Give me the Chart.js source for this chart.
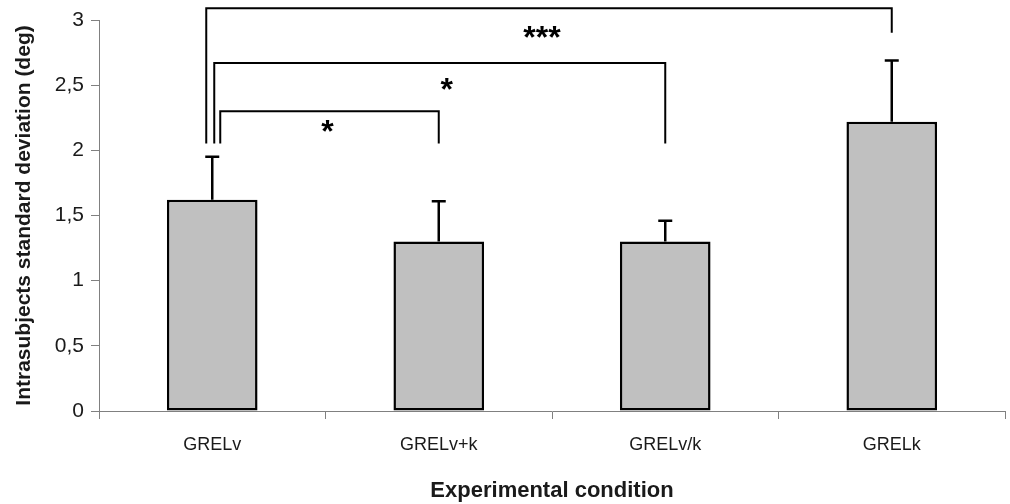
<!DOCTYPE html>
<html>
<head>
<meta charset="utf-8">
<script src="https://cdn.jsdelivr.net/npm/chart.js@4"></script>
<style>
  html, body { margin: 0; padding: 0; background: #fff; }
  #wrap { width: 1010px; height: 504px; }
</style>
</head>
<body>
<div id="wrap"><canvas id="chart" width="1010" height="504"></canvas></div>
<script>
// values
const categories = ['GRELv', 'GRELv+k', 'GRELv/k', 'GRELk'];
const means = [1.62, 1.30, 1.30, 2.22];
const sdUpper = [0.33, 0.31, 0.16, 0.47];
const yTicks = [0, 0.5, 1, 1.5, 2, 2.5, 3];

// significance brackets (axis units)
const bracketFrom = [0, 0, 0];
const bracketTo = [3, 2, 1];
const bracketTop = [3.09, 2.67, 2.30];
const bracketLeftEnd = [2.06, 2.06, 2.06];
const bracketRightEnd = [2.91, 2.06, 2.06];
const bracketLabels = ['***', '*', '*'];

const FONT = '"Liberation Sans", Arial, sans-serif';

// error bars, drawn upwards only
const errorBars = {
    id: 'errorBars',
    afterDatasetsDraw(chart) {
        const ctx = chart.ctx, y = chart.scales.y;
        const meta = chart.getDatasetMeta(0);
        ctx.save();
        ctx.strokeStyle = '#000';
        ctx.lineWidth = 2.5;
        meta.data.forEach((bar, i) => {
            const top = y.getPixelForValue(means[i] + sdUpper[i]);
            const base = y.getPixelForValue(means[i]);
            ctx.beginPath();
            ctx.moveTo(bar.x, base);
            ctx.lineTo(bar.x, top);
            ctx.moveTo(bar.x - 7, top);
            ctx.lineTo(bar.x + 7, top);
            ctx.stroke();
        });
        ctx.restore();
    }
};

// brackets with stars
const brackets = {
    id: 'brackets',
    afterDatasetsDraw(chart) {
        const ctx = chart.ctx, x = chart.scales.x, y = chart.scales.y;
        const leftShift = [-6, 2, 8];
        ctx.save();
        ctx.strokeStyle = '#000';
        ctx.lineWidth = 2;
        ctx.lineCap = 'square';
        bracketFrom.forEach((f, i) => {
            const x1 = x.getPixelForValue(f) + leftShift[i];
            const x2 = x.getPixelForValue(bracketTo[i]);
            const yt = y.getPixelForValue(bracketTop[i]);
            ctx.beginPath();
            ctx.moveTo(x1, y.getPixelForValue(bracketLeftEnd[i]));
            ctx.lineTo(x1, yt);
            ctx.lineTo(x2, yt);
            ctx.lineTo(x2, y.getPixelForValue(bracketRightEnd[i]));
            ctx.stroke();
        });
        ctx.fillStyle = '#000';
        ctx.font = 'bold 32px ' + FONT;
        ctx.textAlign = 'center';
        ctx.textBaseline = 'alphabetic';
        const starDx = [-10, 8, 2];
        const starDy = [40, 37, 31];
        bracketLabels.forEach((lab, i) => {
            const cx = (x.getPixelForValue(bracketFrom[i]) + x.getPixelForValue(bracketTo[i])) / 2 + starDx[i];
            ctx.fillText(lab, cx, y.getPixelForValue(bracketTop[i]) + starDy[i]);
        });
        ctx.restore();
    }
};

new Chart(document.getElementById('chart'), {
    type: 'bar',
    data: {
        labels: categories,
        datasets: [{
            data: means,
            backgroundColor: '#c0c0c0',
            borderColor: '#000',
            borderWidth: 2.5,
            borderSkipped: false,
            barPercentage: 0.4,
            categoryPercentage: 1
        }]
    },
    options: {
        responsive: false,
        animation: false,
        layout: { padding: { left: 0, right: 5, top: 20, bottom: 0 } },
        plugins: { legend: { display: false }, tooltip: { enabled: false } },
        scales: {
            x: {
                offset: true,
                grid: { offset: true, drawOnChartArea: false, drawTicks: true, tickLength: 8, color: '#808080' },
                border: { color: '#808080', width: 1 },
                ticks: { color: '#1a1a1a', font: { family: FONT, size: 18 }, padding: 15, maxRotation: 0 },
                title: { display: true, text: 'Experimental condition', color: '#1a1a1a',
                         font: { family: FONT, size: 22, weight: 'bold' }, padding: { top: 10, bottom: 0 } },
                afterFit(s) { s.height = 93; }
            },
            y: {
                min: 0, max: 3,
                afterBuildTicks(s) { s.ticks = yTicks.map(v => ({ value: v })); },
                grid: { drawOnChartArea: false, drawTicks: true, tickLength: 8, color: '#808080' },
                border: { color: '#808080', width: 1 },
                ticks: { color: '#1a1a1a', font: { family: FONT, size: 21 }, padding: 7,
                         callback: v => String(v).replace('.', ',') },
                title: { display: true, text: 'Intrasubjects standard deviation (deg)', color: '#1a1a1a',
                         font: { family: FONT, size: 21, weight: 'bold' }, padding: { top: 12, bottom: 0 } },
                afterFit(s) { s.width = 99; }
            }
        }
    },
    plugins: [errorBars, brackets]
});
</script>
</body>
</html>
